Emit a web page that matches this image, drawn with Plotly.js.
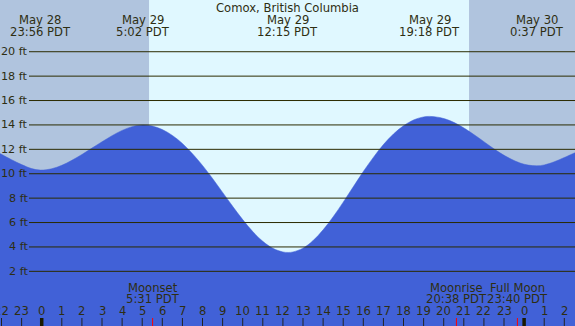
<!DOCTYPE html>
<html>
<head>
<meta charset="utf-8">
<script src="https://cdn.plot.ly/plotly-3.0.1.min.js"></script>
<style>html,body{margin:0;padding:0;background:#e0f8ff;}#chart{width:575px;height:326px;}</style>
</head>
<body>
<div id="chart"></div>
<script>
// ---- data (hours since May 29 00:00 PDT, heights in ft) ----
const tideHours = [-2.07,-1.5,-1,-0.5,-0.07,0.5,1,1.5,2,2.5,3,3.5,4,4.5,5.03,5.5,6,6.5,7,7.5,8,8.5,9,9.5,10,10.5,11,11.5,12,12.27,12.5,13,13.5,14,14.5,15,15.5,16,16.5,17,17.5,18,18.5,19,19.3,19.8,20.3,20.8,21.3,21.8,22.3,22.8,23.3,23.8,24.2,24.62,25,25.5,26,26.53];
const tideFeet  = [11.65,11.15,10.75,10.42,10.3,10.41,10.69,11.1,11.58,12.1,12.62,13.12,13.55,13.86,14.0,13.91,13.62,13.14,12.48,11.64,10.68,9.61,8.47,7.33,6.24,5.26,4.46,3.89,3.59,3.55,3.59,3.9,4.52,5.4,6.47,7.67,8.93,10.18,11.34,12.39,13.26,13.93,14.41,14.66,14.7,14.61,14.36,13.95,13.44,12.87,12.27,11.71,11.24,10.88,10.71,10.65,10.72,10.98,11.33,11.72];

const extremeHours = [-0.067, 5.033, 12.25, 19.3, 24.617];
const extremeDates = ["May 28","May 29","May 29","May 29","May 30"];
const extremeTimes = ["23:56 PDT","5:02 PDT","12:15 PDT","19:18 PDT","0:37 PDT"];

const nightStart = [-3, 21.26];
const nightEnd   = [5.34, 28];

const moonHours  = [5.517, 20.633, 23.667];
const moonNames  = ["Moonset","Moonrise","Full Moon"];
const moonTimes  = ["5:31 PDT","20:38 PDT","23:40 PDT"];

const hourTicks  = [-2,-1,0,1,2,3,4,5,6,7,8,9,10,11,12,13,14,15,16,17,18,19,20,21,22,23,24,25,26];
const hourLabels = ["22","23","0","1","2","3","4","5","6","7","8","9","10","11","12","13","14","15","16","17","18","19","20","21","22","23","0","1","2"];
const midnightHours = [0, 24];

const footTicks  = [2,4,6,8,10,12,14,16,18,20];
const footLabels = ["2 ft","4 ft","6 ft","8 ft","10 ft","12 ft","14 ft","16 ft","18 ft","20 ft"];

const titleText = "Comox, British Columbia";

// ---- styling ----
const W = 575, H = 326;
const FONT = "DejaVu Sans";
const FS = 11.6;
const TXT = "#2e2e12";
const GRID = "#2b2b00";
const DAY = "#e0f8ff";
const NIGHT = "#b0c4de";
const WATER = "#4161d7";
const py = px => 1 - px / H;

const traces = [
  {x: [-3, 28], y: [-6, -6], mode: "lines", line: {width: 0, color: WATER}, hoverinfo: "skip", showlegend: false},
  {x: tideHours, y: tideFeet, mode: "lines", line: {shape: "spline", smoothing: 1, width: 0.5, color: WATER},
   fill: "tonexty", fillcolor: WATER, hoverinfo: "skip", showlegend: false}
];

const shapes = [];
nightStart.forEach((s, i) => shapes.push({type: "rect", xref: "x", yref: "paper", x0: s, x1: nightEnd[i], y0: 0, y1: 1,
  fillcolor: NIGHT, line: {width: 0}, layer: "below"}));
footTicks.forEach(v => shapes.push({type: "line", xref: "paper", yref: "y", x0: 29 / W, x1: 1, y0: v, y1: v,
  line: {color: GRID, width: 1}, layer: "above"}));
hourTicks.forEach(h => {
  const mid = midnightHours.indexOf(h) >= 0;
  shapes.push({type: "line", xref: "x", yref: "paper", x0: h, x1: h, y0: 0, y1: 8 / H,
    line: {color: mid ? "#1a1a00" : "#222222", width: mid ? 3.5 : 1}, layer: "above"});
});
moonHours.forEach(h => shapes.push({type: "line", xref: "x", yref: "paper", x0: h, x1: h, y0: 0, y1: 8 / H,
  line: {color: "#ff0000", width: 1}, layer: "above"}));

const ann = [];
const font = {family: FONT, size: FS, color: TXT};
const base = {showarrow: false, font: font, borderpad: 0, borderwidth: 0, yanchor: "middle"};
ann.push(Object.assign({text: titleText, xref: "paper", yref: "paper", x: 0.5, y: py(8), xanchor: "center"}, base));
extremeHours.forEach((h, i) => {
  ann.push(Object.assign({text: extremeDates[i], xref: "x", yref: "paper", x: h, y: py(20), xanchor: "center"}, base));
  ann.push(Object.assign({text: extremeTimes[i], xref: "x", yref: "paper", x: h, y: py(31.5), xanchor: "center"}, base));
});
footTicks.forEach((v, i) => ann.push(Object.assign({text: footLabels[i], xref: "paper", yref: "y", x: 27.5 / W, y: v, xanchor: "right"}, base,
  {font: {family: FONT, size: 11.2, color: TXT}})));
hourTicks.forEach((h, i) => ann.push(Object.assign({text: hourLabels[i], xref: "x", yref: "paper", x: h, y: py(311), xanchor: "center"}, base)));
moonHours.forEach((h, i) => {
  ann.push(Object.assign({text: moonNames[i], xref: "x", yref: "paper", x: h, y: py(287.7), xanchor: "center"}, base));
  ann.push(Object.assign({text: moonTimes[i], xref: "x", yref: "paper", x: h, y: py(299), xanchor: "center"}, base));
});

const layout = {
  width: W, height: H,
  margin: {l: 0, r: 0, t: 0, b: 0, pad: 0},
  paper_bgcolor: DAY, plot_bgcolor: DAY,
  xaxis: {range: [-2.075, 26.532], visible: false, fixedrange: true},
  yaxis: {range: [-2.48, 24.24], visible: false, fixedrange: true},
  shapes: shapes, annotations: ann, showlegend: false
};

Plotly.newPlot("chart", traces, layout, {staticPlot: true, displayModeBar: false});
</script>
</body>
</html>
